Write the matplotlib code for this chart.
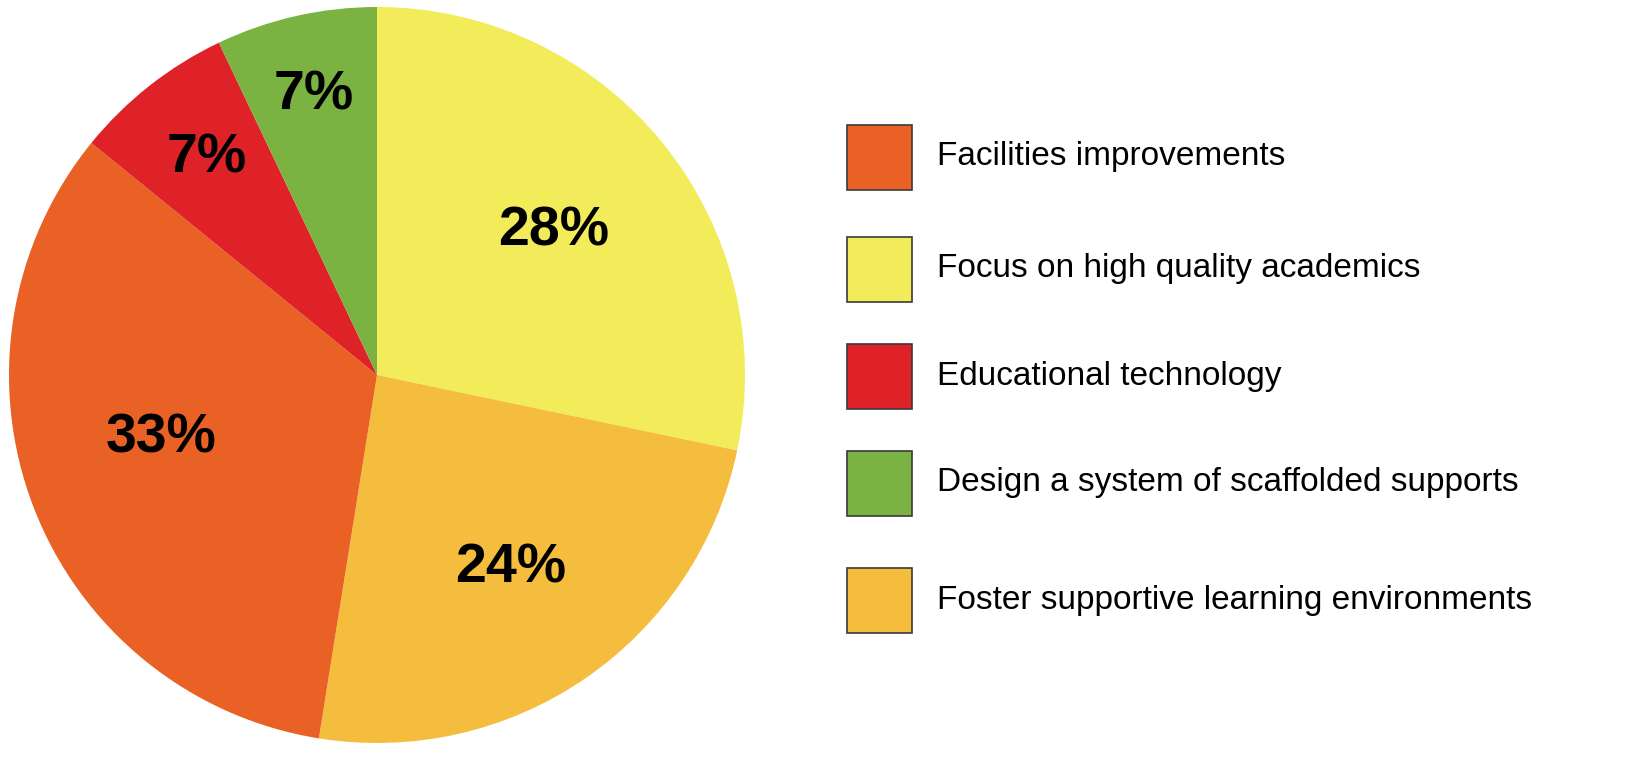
import numpy as np
import matplotlib
matplotlib.use("Agg")
import matplotlib.pyplot as plt
from matplotlib.patches import Rectangle

# Data (pie order, clockwise from top)
categories = ["Focus on high quality academics", "Foster supportive learning environments",
              "Facilities improvements", "Educational technology",
              "Design a system of scaffolded supports"]
values = [28, 24, 33, 7, 7]
colors = ["#F2EB5A", "#F5BD3E", "#E96125", "#DE2228", "#7AB342"]
label_radius = [0.62, 0.64, 0.61, 0.75, 0.78]
label_angle_shift = [0, 0, -4.5, 0, 0]

# Legend order
legend_order = ["Facilities improvements", "Focus on high quality academics",
                "Educational technology", "Design a system of scaffolded supports",
                "Foster supportive learning environments"]

W, H = 1632, 771
fig = plt.figure(figsize=(W / 100, H / 100), dpi=100)

cx, cy, R = 377, 375, 368
ax = fig.add_axes([(cx - R) / W, (H - cy - R) / H, 2 * R / W, 2 * R / H])
wedges, _ = ax.pie(values, colors=colors, startangle=90, counterclock=False,
                   radius=1.0, wedgeprops=dict(linewidth=0))
ax.set_xlim(-1, 1)
ax.set_ylim(-1, 1)
ax.set_aspect("equal")
ax.axis("off")

total = sum(values)
for w, v, rr, da in zip(wedges, values, label_radius, label_angle_shift):
    ang = np.deg2rad((w.theta1 + w.theta2) / 2 + da)
    ax.text(rr * np.cos(ang), rr * np.sin(ang), f"{round(100 * v / total)}%",
            ha="center", va="center", fontsize=40, fontweight="bold",
            family="Liberation Sans", color="black")

# Legend drawn in pixel coordinates
lax = fig.add_axes([0, 0, 1, 1])
lax.set_xlim(0, W)
lax.set_ylim(H, 0)
lax.axis("off")
row_y = [157, 269, 376, 483, 600]
for name, y in zip(legend_order, row_y):
    col = colors[categories.index(name)]
    lax.add_patch(Rectangle((847, y - 32.5), 65, 65, facecolor=col,
                            edgecolor="#3a3a3a", linewidth=1.2))
    lax.text(937, y, name, ha="left", va="center", fontsize=24,
             family="Liberation Sans", color="black")

fig.savefig("out.png", dpi=100, facecolor="white")
